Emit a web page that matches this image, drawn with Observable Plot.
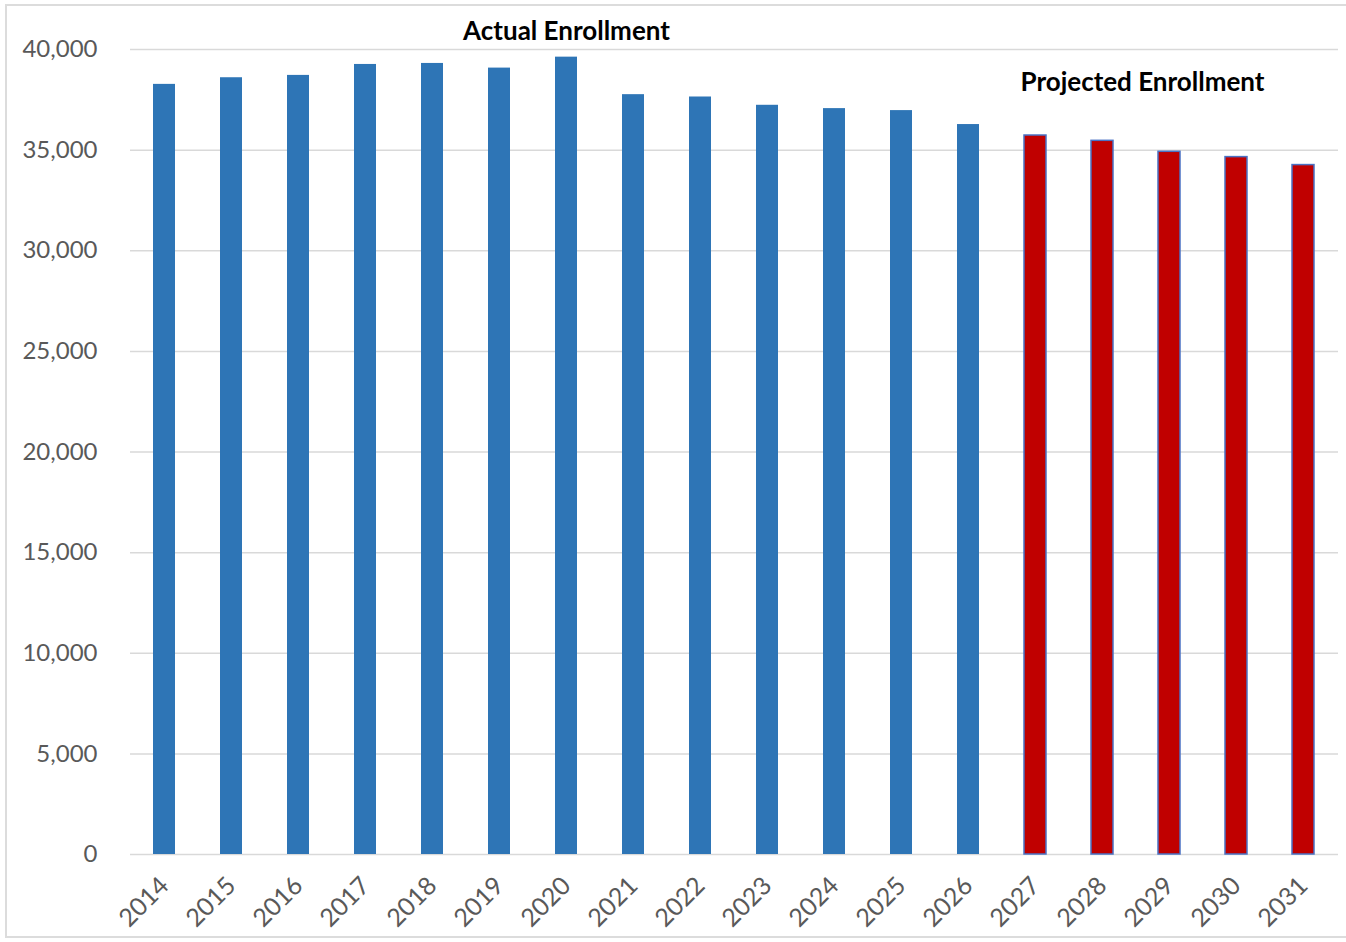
<!DOCTYPE html>
<html>
<head>
<meta charset="utf-8">
<script src="https://cdn.jsdelivr.net/npm/d3@7"></script>
<script src="https://cdn.jsdelivr.net/npm/@observablehq/plot@0.6"></script>
<style>
  html, body { margin: 0; padding: 0; background: #fff; }
  #wrap { position: relative; width: 1346px; height: 942px; overflow: hidden; }
  #border { position: absolute; left: 5px; top: 4px; width: 1360px; height: 934px; border: 2px solid #dcdcdc; box-sizing: border-box; pointer-events: none; }
  #chart { position: absolute; left: 0; top: 0; }
</style>
</head>
<body>
<div id="wrap"><div id="chart"></div><div id="border"></div></div>
<script>
const years = ["2014","2015","2016","2017","2018","2019","2020","2021","2022","2023","2024","2025","2026","2027","2028","2029","2030","2031"];
const enrollment = [38267,38597,38713,39257,39307,39076,39620,37756,37640,37228,37063,36964,36271,35726,35462,34917,34653,34257];
const status = ["Actual","Actual","Actual","Actual","Actual","Actual","Actual","Actual","Actual","Actual","Actual","Actual","Actual","Projected","Projected","Projected","Projected","Projected"];
const yTicks = [0,5000,10000,15000,20000,25000,30000,35000,40000];
const annotationText = ["Actual Enrollment","Projected Enrollment"];
const annotationYear = ["2020","2029"];
const annotationValue = [40880,38330];

const data = years.map((year, i) => ({year, value: enrollment[i], status: status[i]}));
const annotations = annotationText.map((text, i) => ({text, year: annotationYear[i], value: annotationValue[i]}));

const chart = Plot.plot({
  width: 1346,
  height: 942,
  marginLeft: 130,
  marginRight: 8,
  marginTop: 49,
  marginBottom: 88,
  style: {fontFamily: "Lato, 'Open Sans', sans-serif", fontSize: "24px", color: "#595959", background: "transparent"},
  x: {domain: years, paddingInner: 0.67, paddingOuter: 0.335, label: null},
  y: {domain: [0, 40000], label: null},
  marks: [
    Plot.gridY(yTicks, {stroke: "#d9d9d9", strokeOpacity: 1, strokeWidth: 1.5}),
    Plot.barY(data.filter(d => d.status === "Actual"), {x: "year", y: "value", fill: "#2E75B6"}),
    Plot.barY(data.filter(d => d.status === "Projected"), {x: "year", y: "value", fill: "#C00000", stroke: "#4A72C4", strokeWidth: 1.5}),
    Plot.axisY(yTicks, {tickFormat: d3.format(","), tickSize: 0, tickPadding: 33, fontSize: 24, fill: "#595959"}),
    Plot.axisX({tickRotate: -45, tickSize: 0, tickPadding: 27, fontSize: 25, fill: "#595959"}),
    Plot.text(annotations.slice(0, 1), {x: "year", y: "value", text: "text", fontSize: 26, fontWeight: "bold", fill: "#000", clip: false}),
    Plot.text(annotations.slice(1), {x: "year", y: "value", text: "text", dx: -27, fontSize: 26, fontWeight: "bold", fill: "#000", clip: false}),
  ]
});
document.getElementById("chart").appendChild(chart);
</script>
</body>
</html>
